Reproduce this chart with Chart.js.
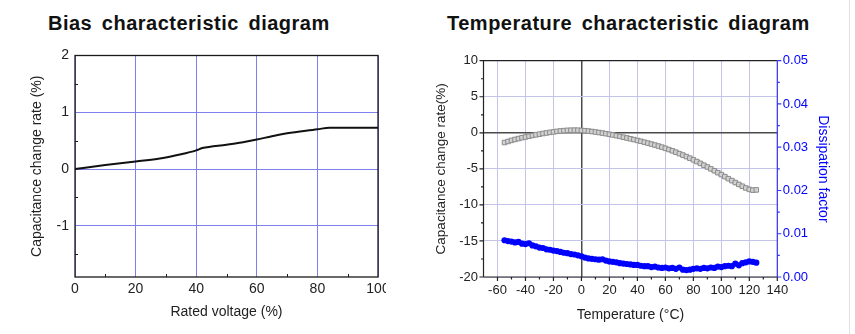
<!DOCTYPE html>
<html>
<head>
<meta charset="utf-8">
<script src="https://cdn.jsdelivr.net/npm/chart.js@4.4.1/dist/chart.umd.min.js"></script>
<style>
  html, body { margin: 0; padding: 0; background: #fff; }
  body { width: 855px; height: 334px; position: relative; overflow: hidden; font-family: "Liberation Sans", Arial, sans-serif; }
  .title { position: absolute; top: 12.6px; font-weight: bold; font-size: 20px; line-height: 20px;
           letter-spacing: 0.5px; word-spacing: 3.5px; color: #111; white-space: nowrap; }
  #biasWrap { position: absolute; left: 0; top: 0; width: 386px; height: 334px; overflow: hidden; }
  #tempWrap { position: absolute; left: 420px; top: 0; width: 435px; height: 334px; }
  canvas { display: block; }
  #edge { position: absolute; left: 849px; top: 0; width: 1px; height: 334px; background: #e2e2e2; }
</style>
</head>
<body>
<div class="title" style="left:48px">Bias characteristic diagram</div>
<div class="title" style="left:447px">Temperature characteristic diagram</div>
<div id="biasWrap"><canvas id="bias" width="420" height="334"></canvas></div>
<div id="tempWrap"><canvas id="temp" width="435" height="334"></canvas></div>
<div id="edge"></div>
<script>
const FONT = '"Liberation Sans", Arial, sans-serif';

// ---- Bias characteristic: capacitance change vs. applied voltage ----
const VOLTAGE     = [0, 10, 20, 28, 35, 40, 42, 50, 55, 60, 65, 70, 80, 84, 100];
const BIAS_CHANGE = [0, 0.07, 0.135, 0.185, 0.26, 0.33, 0.37, 0.43, 0.47, 0.52, 0.58, 0.63, 0.70, 0.73, 0.73];
const BIAS_X_TICKS = [0, 20, 40, 60, 80, 100];
const BIAS_Y_TICKS = [-1, 0, 1, 2];
const BIAS_X_MINOR = [10, 30, 50, 70, 90];
const BIAS_Y_MINOR = [-1.5, -0.5, 0.5, 1.5];

// ---- Temperature characteristic: capacitance change and dissipation factor ----
const TEMPERATURE = [
  -55, -52.5, -50, -47.5, -45, -42.5, -40, -37.5, -35, -32.5, -30, -27.5, -25, -22.5, -20, -17.5,
  -15, -12.5, -10, -7.5, -5, -2.5, 0, 2.5, 5, 7.5, 10, 12.5, 15, 17.5, 20, 22.5,
  25, 27.5, 30, 32.5, 35, 37.5, 40, 42.5, 45, 47.5, 50, 52.5, 55, 57.5, 60, 62.5,
  65, 67.5, 70, 72.5, 75, 77.5, 80, 82.5, 85, 87.5, 90, 92.5, 95, 97.5, 100, 102.5,
  105, 107.5, 110, 112.5, 115, 117.5, 120, 122.5, 125
];
const CAP_CHANGE = [
  -1.35, -1.2, -1.05, -0.92, -0.8, -0.68, -0.58, -0.47, -0.37, -0.28, -0.19, -0.1, -0.02, 0.06, 0.13, 0.2,
  0.26, 0.3, 0.34, 0.36, 0.37, 0.36, 0.33, 0.29, 0.24, 0.18, 0.11, 0.04, -0.04, -0.12, -0.21, -0.3,
  -0.4, -0.5, -0.61, -0.72, -0.83, -0.94, -1.06, -1.18, -1.3, -1.43, -1.56, -1.7, -1.84, -1.99, -2.15, -2.32,
  -2.5, -2.69, -2.89, -3.09, -3.3, -3.52, -3.75, -3.99, -4.24, -4.49, -4.74, -5.0, -5.26, -5.53, -5.8, -6.08,
  -6.36, -6.63, -6.9, -7.16, -7.41, -7.65, -7.85, -7.95, -7.92
];
const DISSIPATION = [
  0.0085, 0.0083, 0.0082, 0.0080, 0.0081, 0.0077, 0.0076, 0.0078, 0.0073, 0.0071, 0.0068, 0.0067, 0.0064, 0.0063, 0.0061, 0.0060,
  0.0058, 0.0056, 0.0055, 0.0053, 0.0052, 0.0050, 0.0048, 0.0045, 0.0043, 0.0042, 0.0041, 0.0040, 0.0041, 0.0038, 0.0036, 0.0035,
  0.0034, 0.0032, 0.0031, 0.0030, 0.0029, 0.0028, 0.0028, 0.0026, 0.0025, 0.0025, 0.0023, 0.0024, 0.0022, 0.0021, 0.0022, 0.0020,
  0.0021, 0.0019, 0.0022, 0.0017, 0.0016, 0.0017, 0.0019, 0.0020, 0.0019, 0.0021, 0.0020, 0.0022, 0.0021, 0.0024, 0.0023, 0.0025,
  0.0026, 0.0025, 0.0031, 0.0027, 0.0032, 0.0034, 0.0036, 0.0035, 0.0033
];
const TEMP_X_TICKS = [-60, -40, -20, 0, 20, 40, 60, 80, 100, 120, 140];
const TEMP_Y_TICKS = [-20, -15, -10, -5, 0, 5, 10];
const DF_TICKS     = [0, 0.01, 0.02, 0.03, 0.04, 0.05];
const TEMP_X_MINOR = [-50, -30, -10, 10, 30, 50, 70, 90, 110, 130];
const TEMP_Y_MINOR = [-17.5, -12.5, -7.5, -2.5, 2.5, 7.5];
const DF_MINOR     = [0.005, 0.015, 0.025, 0.035, 0.045];

const BLUE = '#0000ff';

// Frame and inward minor ticks for the bias plot
const biasFrame = {
  id: 'biasFrame',
  beforeDatasetsDraw(chart) {
    const { ctx, chartArea: a, scales: { x, y } } = chart;
    ctx.save();
    ctx.strokeStyle = '#1a1a1a';
    ctx.lineWidth = 1.3;
    ctx.strokeRect(a.left, a.top, a.right - a.left, a.bottom - a.top);
    ctx.lineWidth = 1;
    ctx.beginPath();
    BIAS_X_MINOR.forEach(v => { const p = Math.round(x.getPixelForValue(v)) + 0.5; ctx.moveTo(p, a.bottom); ctx.lineTo(p, a.bottom - 3); });
    BIAS_Y_MINOR.forEach(v => { const p = Math.round(y.getPixelForValue(v)) + 0.5; ctx.moveTo(a.left, p); ctx.lineTo(a.left + 3, p); });
    ctx.stroke();
    ctx.restore();
  }
};

// Axis lines and outward ticks for the temperature plot
const tempFrame = {
  id: 'tempFrame',
  beforeDatasetsDraw(chart) {
    const { ctx, chartArea: a, scales: { x, y, y1 } } = chart;
    ctx.save();
    ctx.lineWidth = 1.2;
    ctx.strokeStyle = '#222';
    ctx.beginPath();
    ctx.moveTo(a.left, a.top); ctx.lineTo(a.right, a.top);
    ctx.moveTo(a.left, a.top); ctx.lineTo(a.left, a.bottom); ctx.lineTo(a.right, a.bottom);
    TEMP_X_TICKS.forEach(v => { const p = x.getPixelForValue(v); ctx.moveTo(p, a.bottom); ctx.lineTo(p, a.bottom + 4); });
    TEMP_X_MINOR.forEach(v => { const p = x.getPixelForValue(v); ctx.moveTo(p, a.bottom); ctx.lineTo(p, a.bottom + 2.5); });
    TEMP_Y_TICKS.forEach(v => { const p = y.getPixelForValue(v); ctx.moveTo(a.left, p); ctx.lineTo(a.left - 4, p); });
    TEMP_Y_MINOR.forEach(v => { const p = y.getPixelForValue(v); ctx.moveTo(a.left, p); ctx.lineTo(a.left - 2.5, p); });
    ctx.stroke();
    ctx.strokeStyle = '#3434ff';
    ctx.beginPath();
    ctx.moveTo(a.right, a.top); ctx.lineTo(a.right, a.bottom);
    DF_TICKS.forEach(v => { const p = y1.getPixelForValue(v); ctx.moveTo(a.right, p); ctx.lineTo(a.right + 4, p); });
    DF_MINOR.forEach(v => { const p = y1.getPixelForValue(v); ctx.moveTo(a.right, p); ctx.lineTo(a.right + 2.5, p); });
    ctx.stroke();
    ctx.restore();
  }
};

const tickList = arr => scale => { scale.ticks = arr.map(v => ({ value: v })); };
const isZero = c => c.tick && c.tick.value === 0;

new Chart(document.getElementById('bias'), {
  type: 'line',
  data: {
    datasets: [{
      data: VOLTAGE.map((v, i) => ({ x: v, y: BIAS_CHANGE[i] })),
      borderColor: '#111',
      borderWidth: 2,
      pointRadius: 0,
      cubicInterpolationMode: 'monotone'
    }]
  },
  options: {
    responsive: false,
    animation: false,
    devicePixelRatio: 1,
    layout: { padding: { top: 55.5, right: 42, left: 0, bottom: 0 } },
    plugins: { legend: { display: false }, tooltip: { enabled: false } },
    scales: {
      x: {
        type: 'linear', min: 0, max: 100,
        afterBuildTicks: tickList(BIAS_X_TICKS),
        afterFit: s => { s.height = 57; },
        grid: { color: '#7f7fee', lineWidth: 1, drawTicks: false },
        border: { display: false },
        ticks: { padding: 3.5, color: '#222', font: { size: 14, family: FONT }, maxRotation: 0, autoSkip: false, callback: v => String(v) },
        title: { display: true, text: 'Rated voltage (%)', color: '#222', font: { size: 14, family: FONT }, padding: { top: 0, bottom: 13.9 } }
      },
      y: {
        type: 'linear', min: -1.9, max: 2,
        afterBuildTicks: tickList(BIAS_Y_TICKS),
        afterFit: s => { s.width = 75; },
        grid: { color: '#7f7fee', lineWidth: 1, drawTicks: false },
        border: { display: false },
        ticks: { padding: 6, color: '#222', font: { size: 14, family: FONT }, autoSkip: false, callback: v => String(v) },
        title: { display: true, text: 'Capacitance change rate (%)', color: '#222', font: { size: 14, family: FONT }, padding: { top: 28.6, bottom: 0 } }
      }
    }
  },
  plugins: [biasFrame]
});

new Chart(document.getElementById('temp'), {
  type: 'line',
  data: {
    datasets: [
      {
        data: TEMPERATURE.map((t, i) => ({ x: t, y: CAP_CHANGE[i] })),
        yAxisID: 'y',
        showLine: true,
        borderColor: '#9c9c9c',
        borderWidth: 4.5,
        pointStyle: 'rect',
        pointRadius: 3.2,
        pointBorderWidth: 1,
        pointBorderColor: '#8c8c8c',
        pointBackgroundColor: '#d2d2d2'
      },
      {
        data: TEMPERATURE.map((t, i) => ({ x: t, y: DISSIPATION[i] })),
        yAxisID: 'y1',
        showLine: true,
        borderColor: BLUE,
        borderWidth: 4,
        pointRadius: 3.1,
        pointBorderWidth: 0,
        pointBackgroundColor: BLUE
      }
    ]
  },
  options: {
    responsive: false,
    animation: false,
    devicePixelRatio: 1,
    layout: { padding: { top: 60.7, right: 0, left: 0, bottom: 0 } },
    plugins: { legend: { display: false }, tooltip: { enabled: false } },
    scales: {
      x: {
        type: 'linear', min: -70, max: 140,
        afterBuildTicks: tickList(TEMP_X_TICKS),
        afterFit: s => { s.height = 57; },
        grid: { color: c => isZero(c) ? '#4a4a4a' : '#c4c4ea', lineWidth: c => isZero(c) ? 1.5 : 1, drawTicks: false },
        border: { display: false },
        ticks: { padding: 6, color: '#222', font: { size: 13, family: FONT }, maxRotation: 0, autoSkip: false, callback: v => String(v) },
        title: { display: true, text: 'Temperature (°C)', color: '#222', font: { size: 14, family: FONT }, padding: { top: 0, bottom: 10.6 } }
      },
      y: {
        type: 'linear', position: 'left', min: -20, max: 10,
        afterBuildTicks: tickList(TEMP_Y_TICKS),
        afterFit: s => { s.width = 63.5; },
        grid: { color: c => isZero(c) ? '#4a4a4a' : '#c4c4ea', lineWidth: c => isZero(c) ? 1.5 : 1, drawTicks: false },
        border: { display: false },
        ticks: { padding: 5.5, color: '#222', font: { size: 13, family: FONT }, autoSkip: false, callback: v => String(v) },
        title: { display: true, text: 'Capacitance change rate(%)', color: '#222', font: { size: 13.5, family: FONT }, padding: { top: 13.6, bottom: 0 } }
      },
      y1: {
        type: 'linear', position: 'right', min: 0, max: 0.05,
        afterBuildTicks: tickList(DF_TICKS),
        afterFit: s => { s.width = 77.7; },
        grid: { display: false, drawTicks: false },
        border: { display: false },
        ticks: { padding: 5.5, color: BLUE, font: { size: 13, family: FONT }, autoSkip: false, callback: v => v.toFixed(2) },
        title: { display: true, text: 'Dissipation factor', color: BLUE, font: { size: 14, family: FONT }, padding: { top: 23.6, bottom: 0 } }
      }
    }
  },
  plugins: [tempFrame]
});
</script>
</body>
</html>
